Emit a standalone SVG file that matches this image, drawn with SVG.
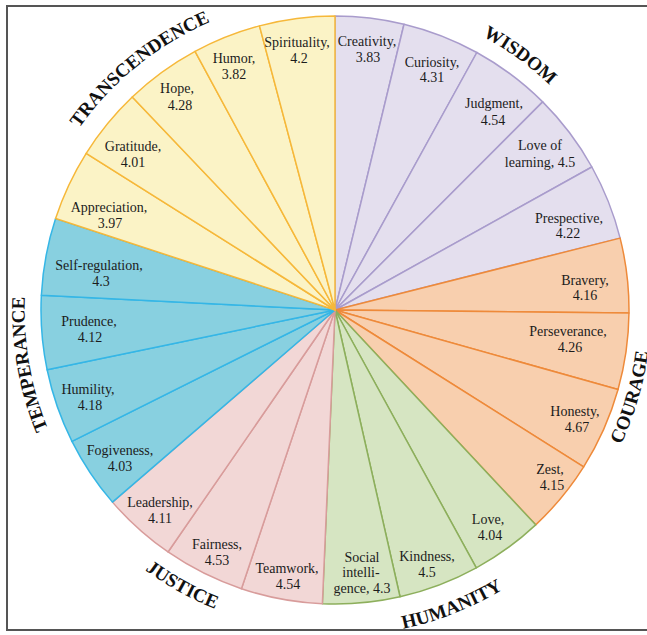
<svg xmlns="http://www.w3.org/2000/svg" width="647" height="635" viewBox="0 0 647 635">
<style>
  .s { stroke-width: 1.5; stroke-linejoin: round; }
  .wi { fill: #E4DFEE; stroke: #A99CCC; }
  .co { fill: #F8CFAE; stroke: #EE8A3A; }
  .hu { fill: #D6E5C2; stroke: #8DAF5C; }
  .ju { fill: #F2D7D6; stroke: #D89C9B; }
  .te { fill: #88D0E0; stroke: #35B6E6; }
  .tr { fill: #FBF3C6; stroke: #F6B83A; }
  .lbl { font-family: "Liberation Serif", "Times New Roman", serif; font-size: 14px; fill: #1c1c1c; text-anchor: middle; }
  .grp { font-family: "Liberation Serif", "Times New Roman", serif; font-size: 19px; font-weight: bold; fill: #111; text-anchor: middle; }
</style>
<defs>
  <path id="pTr" d="M26.77,250.09 A314,314 0 0 1 340.48,-3.95"/>
  <path id="pWi" d="M313.31,-0.24 A311,311 0 0 1 636.76,234.76"/>
  <path id="pTe" d="M135.4,548.1 A310,310 0 0 1 66.5,155"/>
  <path id="pCo" d="M509.87,573.2 A316,316 0 0 0 624.57,183.49"/>
  <path id="pHu" d="M232.1,619.33 A326,326 0 0 0 621.66,465.25"/>
  <path id="pJu" d="M34.39,425.39 A322,322 0 0 0 396.44,626.08"/>
</defs>
<rect x="0" y="0" width="647" height="635" fill="#ffffff"/>
<rect x="7" y="6" width="660" height="624" fill="#ffffff" stroke="#555" stroke-width="2"/>

<g id="creativity"><path class="s wi" d="M335,310 L335,16 A294,294 0 0 1 404.01,24.21 Z"/></g>
<g id="curiosity"><path class="s wi" d="M335,310 L404.01,24.21 A294,294 0 0 1 476.85,52.49 Z"/></g>
<g id="judgment"><path class="s wi" d="M335,310 L476.85,52.49 A294,294 0 0 1 542.68,101.9 Z"/></g>
<g id="love-of-learning"><path class="s wi" d="M335,310 L542.68,101.9 A294,294 0 0 1 591.88,167 Z"/></g>
<g id="perspective"><path class="s wi" d="M335,310 L591.88,167 A294,294 0 0 1 620.11,238.11 Z"/></g>
<g id="bravery"><path class="s co" d="M335,310 L620.11,238.11 A294,294 0 0 1 628.98,313.05 Z"/></g>
<g id="perseverance"><path class="s co" d="M335,310 L628.98,313.05 A294,294 0 0 1 618.04,389.52 Z"/></g>
<g id="honesty"><path class="s co" d="M335,310 L618.04,389.52 A294,294 0 0 1 583.66,466.86 Z"/></g>
<g id="zest"><path class="s co" d="M335,310 L583.66,466.86 A294,294 0 0 1 535.68,524.85 Z"/></g>
<g id="love"><path class="s hu" d="M335,310 L535.68,524.85 A294,294 0 0 1 476.3,567.82 Z"/></g>
<g id="kindness"><path class="s hu" d="M335,310 L476.3,567.82 A294,294 0 0 1 400.02,596.72 Z"/></g>
<g id="social-intelligence"><path class="s hu" d="M335,310 L400.02,596.72 A294,294 0 0 1 322.37,603.73 Z"/></g>
<g id="teamwork"><path class="s ju" d="M335,310 L322.37,603.73 A294,294 0 0 1 241.44,588.71 Z"/></g>
<g id="fairness"><path class="s ju" d="M335,310 L241.44,588.71 A294,294 0 0 1 168.01,551.97 Z"/></g>
<g id="leadership"><path class="s ju" d="M335,310 L168.01,551.97 A294,294 0 0 1 112.47,502.13 Z"/></g>
<g id="forgiveness"><path class="s te" d="M335,310 L112.47,502.13 A294,294 0 0 1 71.97,441.35 Z"/></g>
<g id="humility"><path class="s te" d="M335,310 L71.97,441.35 A294,294 0 0 1 47.13,369.74 Z"/></g>
<g id="prudence"><path class="s te" d="M335,310 L47.13,369.74 A294,294 0 0 1 41.37,295.23 Z"/></g>
<g id="self-regulation"><path class="s te" d="M335,310 L41.37,295.23 A294,294 0 0 1 55.59,218.55 Z"/></g>
<g id="appreciation"><path class="s tr" d="M335,310 L55.59,218.55 A294,294 0 0 1 86.2,153.37 Z"/></g>
<g id="gratitude"><path class="s tr" d="M335,310 L86.2,153.37 A294,294 0 0 1 132.27,97.08 Z"/></g>
<g id="hope"><path class="s tr" d="M335,310 L132.27,97.08 A294,294 0 0 1 195.05,51.44 Z"/></g>
<g id="humor"><path class="s tr" d="M335,310 L195.05,51.44 A294,294 0 0 1 259.48,25.87 Z"/></g>
<g id="spirituality"><path class="s tr" d="M335,310 L259.48,25.87 A294,294 0 0 1 335,16 Z"/></g>

<g id="slice-labels" class="lbl">
  <text x="367" y="46">Creativity,</text><text x="368" y="62">3.83</text>
  <text x="432" y="67">Curiosity,</text><text x="432" y="82">4.31</text>
  <text x="494" y="108">Judgment,</text><text x="493" y="125">4.54</text>
  <text x="540" y="150">Love of</text><text x="540" y="167">learning, 4.5</text>
  <text x="569" y="223">Prespective,</text><text x="568" y="238">4.22</text>
  <text x="585" y="285">Bravery,</text><text x="585" y="300">4.16</text>
  <text x="568" y="336">Perseverance,</text><text x="570" y="352">4.26</text>
  <text x="575" y="416">Honesty,</text><text x="577" y="432">4.67</text>
  <text x="550" y="474">Zest,</text><text x="552" y="490">4.15</text>
  <text x="488" y="524">Love,</text><text x="490" y="540">4.04</text>
  <text x="427" y="561">Kindness,</text><text x="427" y="577">4.5</text>
  <text x="362" y="562">Social</text><text x="361" y="577">intelli-</text><text x="362" y="593">gence, 4.3</text>
  <text x="287" y="573">Teamwork,</text><text x="288" y="589">4.54</text>
  <text x="217" y="549">Fairness,</text><text x="217" y="565">4.53</text>
  <text x="160" y="507">Leadership,</text><text x="160" y="523">4.11</text>
  <text x="120" y="455">Fogiveness,</text><text x="120" y="471">4.03</text>
  <text x="88" y="394">Humility,</text><text x="90" y="410">4.18</text>
  <text x="89" y="326">Prudence,</text><text x="90" y="342">4.12</text>
  <text x="99" y="270">Self-regulation,</text><text x="101" y="286">4.3</text>
  <text x="109" y="212">Appreciation,</text><text x="110" y="228">3.97</text>
  <text x="133" y="151">Gratitude,</text><text x="133" y="167">4.01</text>
  <text x="177" y="93">Hope,</text><text x="180" y="110">4.28</text>
  <text x="234" y="63">Humor,</text><text x="234" y="79">3.82</text>
  <text x="297" y="47">Spirituality,</text><text x="299" y="63">4.2</text>
</g>

<g id="group-labels" class="grp">
  <text><textPath href="#pTr" startOffset="50%">TRANSCENDENCE</textPath></text>
  <text><textPath href="#pWi" startOffset="50%">WISDOM</textPath></text>
  <text><textPath href="#pTe" startOffset="50%">TEMPERANCE</textPath></text>
  <text><textPath href="#pCo" startOffset="50%">COURAGE</textPath></text>
  <text><textPath href="#pHu" startOffset="50%">HUMANITY</textPath></text>
  <text><textPath href="#pJu" startOffset="50%">JUSTICE</textPath></text>
</g>
</svg>
